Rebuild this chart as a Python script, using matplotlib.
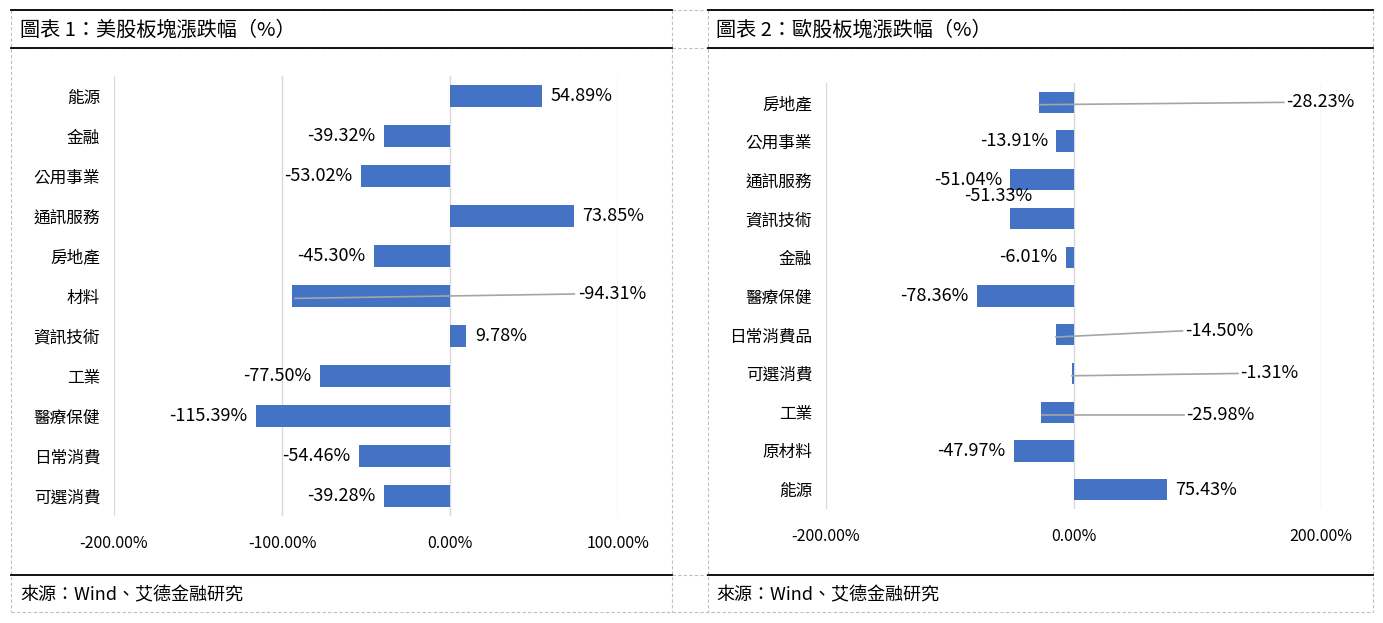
import matplotlib
matplotlib.use("Agg")
import matplotlib.pyplot as plt
from matplotlib.lines import Line2D

# fonts: narrow latin for numbers, CJK fallback
plt.rcParams['font.family'] = ['Liberation Sans Narrow', 'Noto Sans CJK TC', 'DejaVu Sans']

# data
us_titles = "圖表 1：美股板塊漲跌幅（%）"
us_sectors = ["能源", "金融", "公用事業", "通訊服務", "房地產", "材料",
              "資訊技術", "工業", "醫療保健", "日常消費", "可選消費"]
us_values = [54.89, -39.32, -53.02, 73.85, -45.30, -94.31,
             9.78, -77.50, -115.39, -54.46, -39.28]
us_ticks = [-200, -100, 0, 100]

eu_titles = "圖表 2：歐股板塊漲跌幅（%）"
eu_sectors = ["房地產", "公用事業", "通訊服務", "資訊技術", "金融", "醫療保健",
              "日常消費品", "可選消費", "工業", "原材料", "能源"]
eu_values = [-28.23, -13.91, -51.04, -51.33, -6.01, -78.36,
             -14.50, -1.31, -25.98, -47.97, 75.43]
eu_ticks = [-200, 0, 200]

source_text = "來源：Wind、艾德金融研究"

# label overrides (position of moved labels, data units): index -> (x, dy, ha, leader)
us_moved = {5: (76, -0.05, "left", True)}
eu_moved = {0: (172, 0.0, "left", True),
            3: (-61, -0.58, "center", False),
            6: (90, -0.1, "left", True),
            7: (135, 0.0, "left", True),
            8: (91, 0.06, "left", True)}

W, H = 1383, 623
bar_color = "#4472C4"
grid_color = "#D9D9D9"
leader_color = "#A5A5A5"

fig = plt.figure(figsize=(W / 100, H / 100), dpi=100)


def px_axes(x0, y0, x1, y1):
    return fig.add_axes([x0 / W, 1 - y1 / H, (x1 - x0) / W, (y1 - y0) / H])


def fy(y):
    return 1 - y / H


def fx(x):
    return x / W


# frame: dashed cell borders + solid rules
dash = dict(color="#BFBFBF", lw=0.8, ls=(0, (3, 2)), transform=fig.transFigure)
for y in [10, 48, 575, 612]:
    fig.add_artist(Line2D([fx(11), fx(1373)], [fy(y), fy(y)], **dash))
for x in [11, 672, 708, 1373]:
    fig.add_artist(Line2D([fx(x), fx(x)], [fy(10), fy(612)], **dash))
for (x0, x1) in [(11, 672), (708, 1373)]:
    for y in [10, 48, 575]:
        fig.add_artist(Line2D([fx(x0), fx(x1)], [fy(y), fy(y)], color="black", lw=1.3,
                              transform=fig.transFigure))

cjk = ['Noto Sans CJK TC', 'DejaVu Sans']
fig.text(fx(20), fy(30), us_titles, fontsize=14.5, va="center", ha="left", family=cjk)
fig.text(fx(716), fy(30), eu_titles, fontsize=14.5, va="center", ha="left", family=cjk)
fig.text(fx(20), fy(595), source_text, fontsize=13, va="center", ha="left", family=cjk)
fig.text(fx(716), fy(595), source_text, fontsize=13, va="center", ha="left", family=cjk)


def draw_panel(ax, sectors, values, ticks, xlim, moved):
    n = len(sectors)
    pos = list(range(n))
    ax.barh(pos, values, height=0.55, color=bar_color, zorder=2)
    ax.set_xlim(*xlim)
    ax.set_ylim(n - 0.5, -0.5)
    ax.set_xticks(ticks)
    ax.set_xticklabels([f"{t:.2f}%" for t in ticks], fontsize=11.5)
    ax.set_yticks(pos)
    ax.set_yticklabels(sectors, fontsize=12, family=cjk)
    ax.tick_params(axis="both", length=0)
    ax.tick_params(axis="x", pad=14)
    ax.tick_params(axis="y", pad=10)
    for s in ax.spines.values():
        s.set_visible(False)
    ax.grid(axis="x", color=grid_color, lw=1, zorder=0)
    ax.set_axisbelow(True)
    for i, v in enumerate(values):
        txt = f"{v:.2f}%"
        if i in moved:
            lx, dy, ha, leader = moved[i]
            if leader:
                ax.plot([v * 0.98, lx - 2], [i + 0.06, i + dy], color=leader_color, lw=1.2, zorder=3)
            ax.text(lx, i + dy, txt, ha=ha, va="center", fontsize=13, zorder=4)
        elif v >= 0:
            ax.annotate(txt, (v, i), xytext=(6, 0), textcoords="offset points",
                        ha="left", va="center", fontsize=13)
        else:
            ax.annotate(txt, (v, i), xytext=(-6, 0), textcoords="offset points",
                        ha="right", va="center", fontsize=13)


ax1 = px_axes(114, 76, 618, 516)
draw_panel(ax1, us_sectors, us_values, us_ticks, (-200, 100), us_moved)

ax2 = px_axes(826, 83, 1321, 509)
draw_panel(ax2, eu_sectors, eu_values, eu_ticks, (-200, 200), eu_moved)

fig.savefig("out.png", dpi=100, facecolor="white")
